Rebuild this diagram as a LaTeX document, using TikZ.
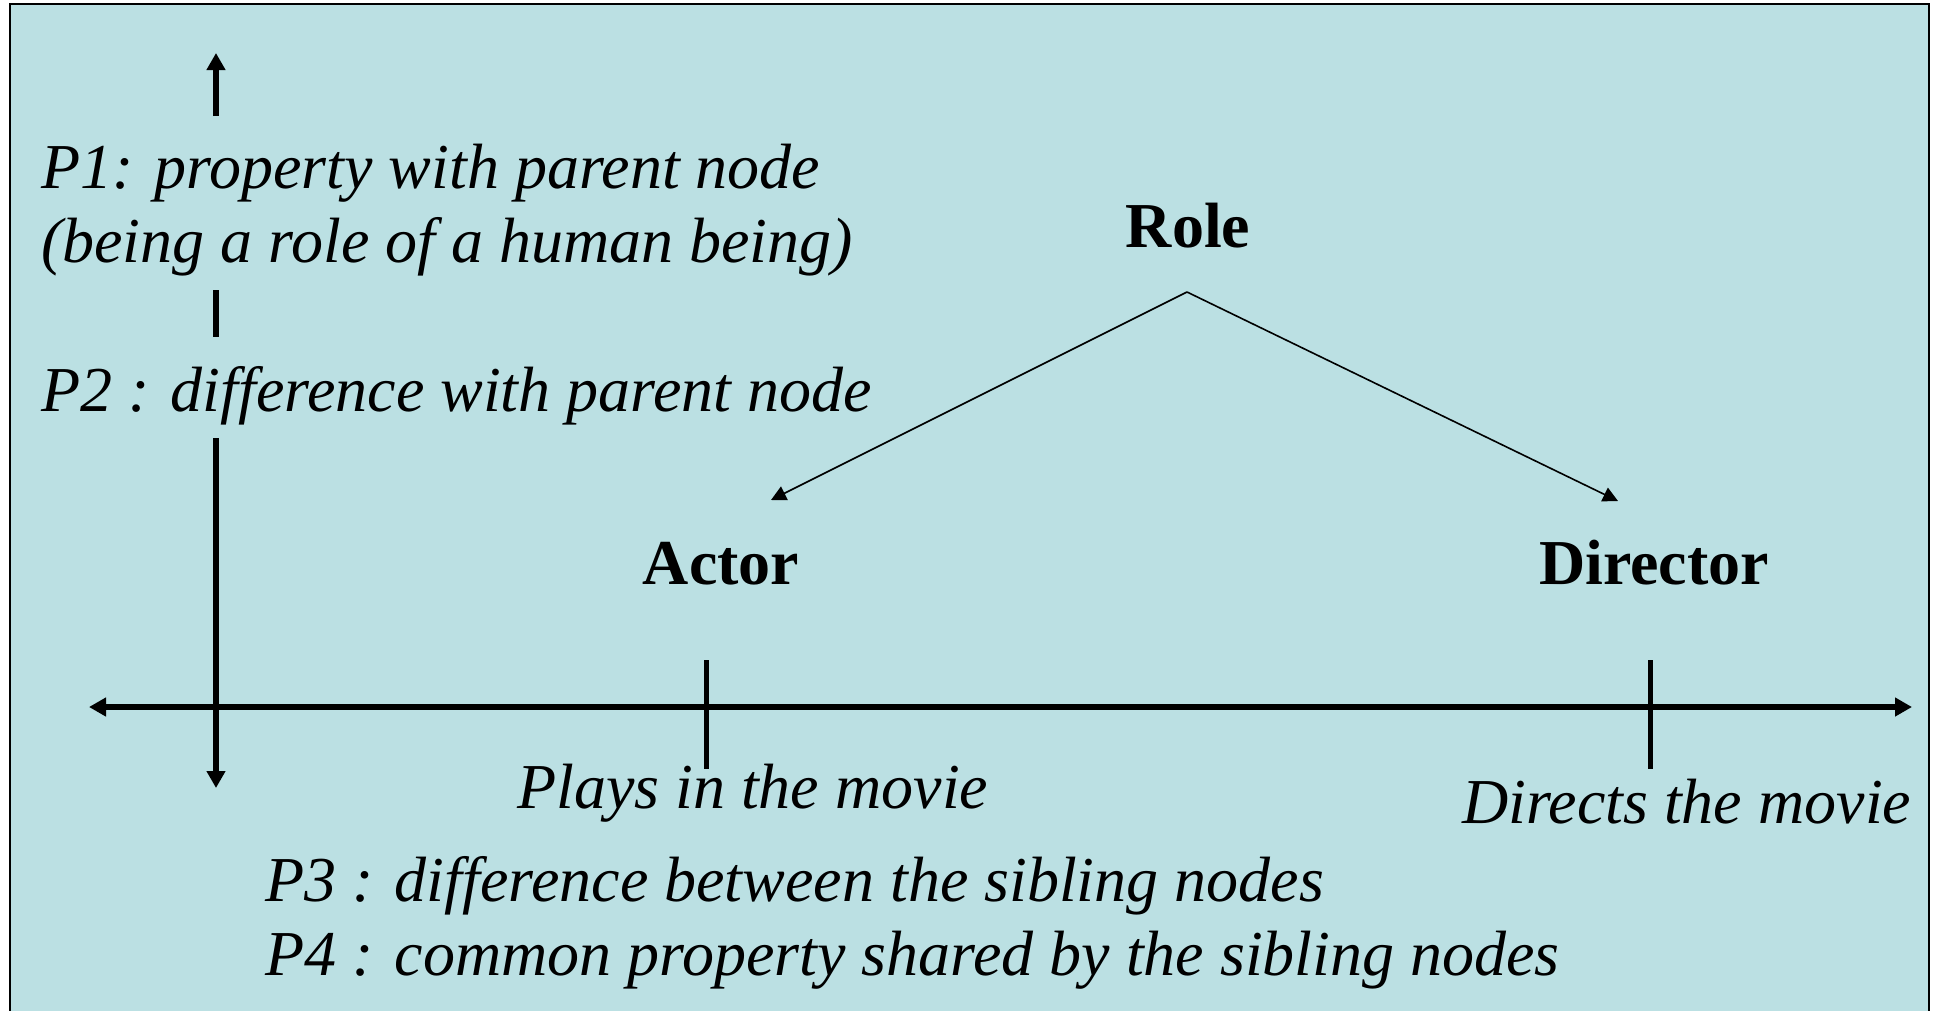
\documentclass[tikz,border=0pt]{standalone}
\usepackage{fontspec}
\setmainfont{Liberation Serif}
\usetikzlibrary{arrows.meta}
\definecolor{bgc}{RGB}{187,224,227}
\tikzset{
  itx/.style={font=\fontsize{64}{77}\selectfont\itshape, anchor=base west, inner sep=0pt},
  bfx/.style={font=\fontsize{64}{77}\selectfont\bfseries, anchor=base, inner sep=0pt},
  axis/.style={line width=5.5pt},
  tick/.style={line width=5pt},
  axtip/.style={-{Triangle[length=17pt,width=18pt]}},
  link/.style={line width=1.6pt, -{Triangle[length=15pt,width=15pt]}}
}
\begin{document}
\begin{tikzpicture}[x=1pt,y=-1pt]
\clip (0,0) rectangle (1935,1010);
\fill[white] (0,0) rectangle (1935,1010);
\draw[fill=bgc, line width=2.5pt] (10,4) rectangle (1929,1030);
% texts
\node[itx] (p1a) at (41,188) {P1: property with parent node};
\node[itx] (p1b) at (41,262) {(being a role of a human being)};
\node[itx] (p2) at (41,411) {P2 : difference with parent node};
\node[bfx] (role) at (1188,247) {Role};
\node[bfx] (actor) at (721,584) {Actor};
\node[bfx] (director) at (1654,584) {Director};
\node[itx] (plays) at (517,808) {Plays in the movie};
\node[itx] (directs) at (1462,823) {Directs the movie};
\node[itx] (p3) at (265,901) {P3 : difference between the sibling nodes};
\node[itx] (p4) at (265,975) {P4 : common property shared by the sibling nodes};
% vertical axis
\coordinate (vtop) at (216,53);
\coordinate (v1) at (216,116);
\coordinate (v2) at (216,290);
\coordinate (v3) at (216,337);
\coordinate (v4) at (216,438);
\coordinate (vbot) at (216,788);
\draw[axis, axtip] (v1) -- (vtop);
\draw[axis] (v2) -- (v3);
\draw[axis, axtip] (v4) -- (vbot);
% horizontal axis
\coordinate (hl) at (89,707);
\coordinate (hr) at (1912,707);
\draw[axis, {Triangle[length=17pt,width=18pt]}-{Triangle[length=17pt,width=18pt]}] (hl) -- (hr);
% ticks
\coordinate (ta1) at (706,660);
\coordinate (ta2) at (706,769);
\coordinate (td1) at (1650,660);
\coordinate (td2) at (1650,769);
\draw[tick] (ta1) -- (ta2);
\draw[tick] (td1) -- (td2);
% role links
\coordinate (apex) at (1187,292);
\coordinate (aend) at (771,500);
\coordinate (dend) at (1618,501);
\draw[link] (apex) -- (aend);
\draw[link] (apex) -- (dend);
\end{tikzpicture}
\end{document}
